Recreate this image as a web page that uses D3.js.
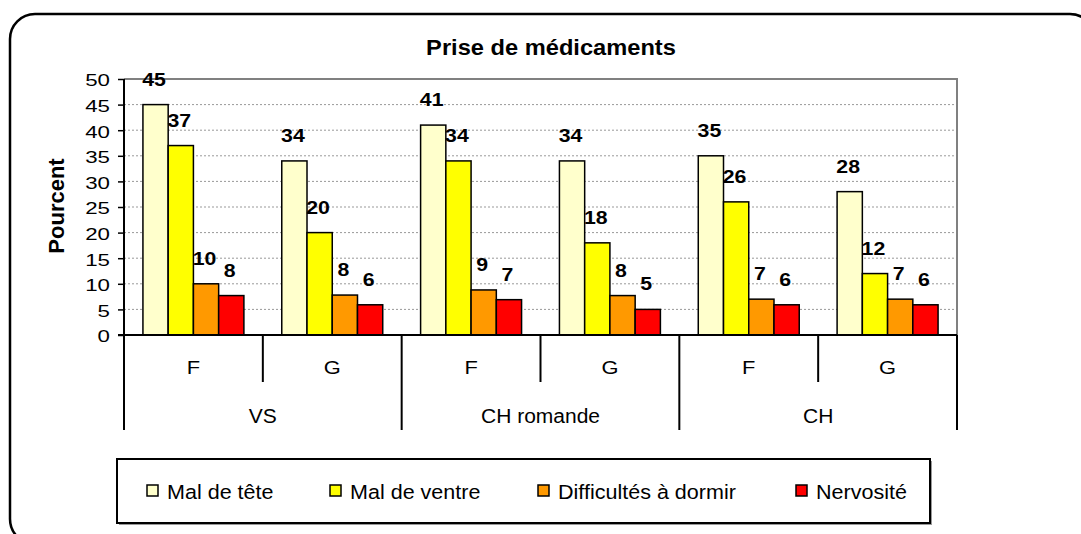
<!DOCTYPE html>
<html>
<head>
<meta charset="utf-8">
<script src="https://cdn.jsdelivr.net/npm/d3@7"></script>
<style>
  body { margin: 0; background: #fff; }
  svg { display: block; font-family: Arial, "Liberation Sans", sans-serif; }
</style>
</head>
<body>
<div id="chart"></div>
<script>
// Data
const regions = ["VS", "CH romande", "CH"];
const sexes = ["F", "G"];
const seriesNames = ["Mal de tête", "Mal de ventre", "Difficultés à dormir", "Nervosité"];
const seriesColors = ["#FFFFCC", "#FFFF00", "#FF9900", "#FF0000"];
// one value per region/sex, in order VS-F, VS-G, CHr-F, CHr-G, CH-F, CH-G
const malDeTete = [45, 34, 41, 34, 35, 28];
const malDeVentre = [37, 20, 34, 18, 26, 12];
const difficultesDormir = [10, 7.8, 8.8, 7.7, 7, 7];
const nervosite = [7.7, 5.9, 6.9, 5, 5.9, 5.9];
const yTicks = [0, 5, 10, 15, 20, 25, 30, 35, 40, 45, 50];

const W = 1081, H = 534;
const plotLeft = 124, plotRight = 957, plotTop = 79, plotBottom = 335;

const svg = d3.select("#chart").append("svg")
    .attr("width", W)
    .attr("height", H);

// stretch text horizontally a bit, like the source rendering
function stretch(sel, k) {
    sel.each(function() {
        const len = this.getComputedTextLength();
        d3.select(this).attr("textLength", len * k).attr("lengthAdjust", "spacingAndGlyphs");
    });
}

// outer frame
svg.append("rect")
    .attr("x", 10).attr("y", 14)
    .attr("width", 1085).attr("height", 530)
    .attr("rx", 25).attr("ry", 25)
    .attr("fill", "none").attr("stroke", "#000").attr("stroke-width", 2.5);

const keys = [];
regions.forEach(r => sexes.forEach(s => keys.push(r + "|" + s)));

const x0 = d3.scaleBand().domain(keys).range([plotLeft, plotRight]).padding(0);
const x1 = d3.scaleBand().domain(seriesNames).range([0, x0.bandwidth()])
    .paddingInner(0).paddingOuter(0.75);
const y = d3.scaleLinear().domain([0, 50]).range([plotBottom, plotTop]);

// gridlines
svg.append("g").selectAll("line")
    .data(yTicks.filter(t => t > 0 && t < 50))
    .join("line")
    .attr("x1", plotLeft).attr("x2", plotRight)
    .attr("y1", d => y(d)).attr("y2", d => y(d))
    .attr("stroke", "#999").attr("stroke-width", 1)
    .attr("stroke-dasharray", "2,2");

// plot area top + right border
svg.append("path")
    .attr("d", `M${plotLeft},${y(50)}H${plotRight}V${plotBottom}`)
    .attr("fill", "none").attr("stroke", "#808080").attr("stroke-width", 2);

// bars
const allSeries = [malDeTete, malDeVentre, difficultesDormir, nervosite];
const rows = [];
keys.forEach((k, i) => {
    seriesNames.forEach((s, j) => {
        rows.push({ key: k, series: s, color: seriesColors[j], value: allSeries[j][i] });
    });
});

svg.append("g").selectAll("rect")
    .data(rows)
    .join("rect")
    .attr("x", d => x0(d.key) + x1(d.series))
    .attr("y", d => y(d.value))
    .attr("width", x1.bandwidth())
    .attr("height", d => y(0) - y(d.value))
    .attr("fill", d => d.color)
    .attr("stroke", "#000").attr("stroke-width", 1.5);

// value labels
svg.append("g").selectAll("text")
    .data(rows)
    .join("text")
    .attr("x", d => x0(d.key) + x1(d.series) + x1.bandwidth() / 2 - 1.5)
    .attr("y", d => y(d.value) - 19)
    .attr("text-anchor", "middle")
    .attr("font-size", 18.5)
    .attr("font-weight", "bold")
    .text(d => Math.round(d.value))
    .call(stretch, 1.15);

// y axis
const yAxis = svg.append("g")
    .attr("transform", `translate(${plotLeft},0)`)
    .call(d3.axisLeft(y).tickValues(yTicks).tickSize(6).tickPadding(8));
yAxis.select(".domain").remove();
yAxis.selectAll(".tick line").attr("stroke", "#000").attr("stroke-width", 1.5);
yAxis.selectAll(".tick text")
    .attr("font-size", 16.5)
    .attr("font-family", "Arial, 'Liberation Sans', sans-serif")
    .attr("fill", "#000")
    .attr("dy", "0.42em")
    .call(stretch, 1.35);

// axis lines
svg.append("line")
    .attr("x1", plotLeft).attr("x2", plotLeft)
    .attr("y1", plotTop).attr("y2", 430)
    .attr("stroke", "#000").attr("stroke-width", 2);
svg.append("line")
    .attr("x1", plotLeft - 6).attr("x2", plotRight)
    .attr("y1", plotBottom).attr("y2", plotBottom)
    .attr("stroke", "#000").attr("stroke-width", 2);

// category separators
const bounds = keys.map(k => x0(k)).concat([plotRight]);
svg.append("g").selectAll("line")
    .data(bounds.slice(1))
    .join("line")
    .attr("x1", d => d).attr("x2", d => d)
    .attr("y1", plotBottom)
    .attr("y2", (d, i) => (i % 2 === 0 ? 382 : 430))
    .attr("stroke", "#000").attr("stroke-width", 2);

// sex labels
svg.append("g").selectAll("text")
    .data(keys)
    .join("text")
    .attr("x", d => x0(d) + x0.bandwidth() / 2)
    .attr("y", 374)
    .attr("text-anchor", "middle")
    .attr("font-size", 19)
    .text(d => d.split("|")[1])
    .call(stretch, 1.15);

// region labels
svg.append("g").selectAll("text")
    .data(regions)
    .join("text")
    .attr("x", r => x0(r + "|F") + x0.bandwidth())
    .attr("y", 423)
    .attr("text-anchor", "middle")
    .attr("font-size", 20)
    .text(r => r)
    .call(stretch, 1.05);

// title
svg.append("text")
    .attr("x", 551).attr("y", 55)
    .attr("text-anchor", "middle")
    .attr("font-size", 21.5)
    .attr("font-weight", "bold")
    .text("Prise de médicaments")
    .call(stretch, 1.1);

// y title
svg.append("text")
    .attr("transform", "translate(64,206) rotate(-90)")
    .attr("text-anchor", "middle")
    .attr("font-size", 22)
    .attr("font-weight", "bold")
    .text("Pourcent");

// legend
const legend = svg.append("g");
legend.append("rect")
    .attr("x", 119).attr("y", 461).attr("width", 813).attr("height", 64)
    .attr("fill", "#999");
legend.append("rect")
    .attr("x", 117).attr("y", 459).attr("width", 813).attr("height", 64)
    .attr("fill", "#fff").attr("stroke", "#000").attr("stroke-width", 2);

const legendX = [147, 330, 538, 796];
const items = legend.selectAll("g.item")
    .data(seriesNames)
    .join("g")
    .attr("class", "item")
    .attr("transform", (d, i) => `translate(${legendX[i]},485)`);
items.append("rect")
    .attr("width", 11).attr("height", 11)
    .attr("fill", (d, i) => seriesColors[i])
    .attr("stroke", "#000").attr("stroke-width", 1.5);
items.append("text")
    .attr("x", 20).attr("y", 13.5)
    .attr("font-size", 20.5)
    .text(d => d)
    .call(stretch, 1.05);
</script>
</body>
</html>
